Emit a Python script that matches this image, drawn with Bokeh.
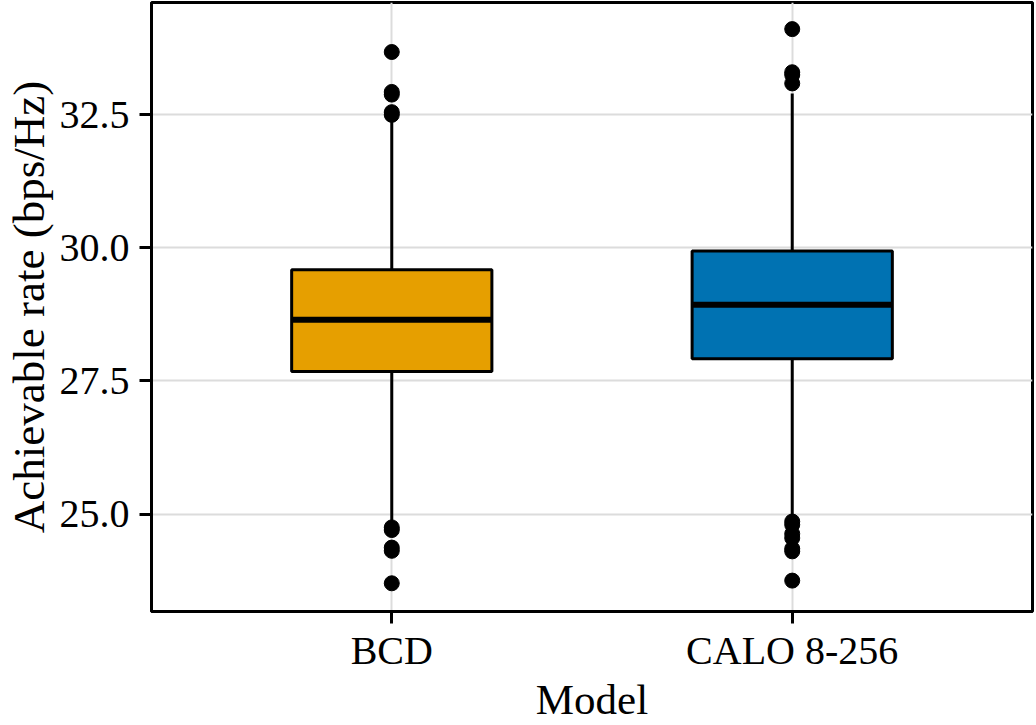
from bokeh.plotting import figure
from bokeh.models import Range1d, FixedTicker, ColumnDataSource
from bokeh.embed import file_html
from bokeh.resources import INLINE

# Box-plot summary per model (achievable rate, bps/Hz)
models = ["BCD", "CALO 8-256"]
colors = ["#E69F00", "#0072B2"]
q1 = [27.68, 27.92]
median = [28.65, 28.93]
q3 = [29.59, 29.94]
whisker_low = [24.84, 24.90]
whisker_high = [32.40, 32.90]

# Outlying observations
bcd_outliers = [33.68, 32.93, 32.88, 32.55, 32.50, 24.75, 24.70, 24.37, 24.31, 23.70]
calo_outliers = [34.11, 33.30, 33.25, 33.09, 24.86, 24.80, 24.63, 24.55, 24.35, 24.30, 23.75]

y_ticks = [25.0, 27.5, 30.0, 32.5]

FONT = "Liberation Serif"
BOX_W = 0.5

xpos = [i + 1 for i in range(len(models))]

p = figure(
    width=1036, height=725,
    frame_width=881, frame_height=609,
    x_range=Range1d(0.4, 2.6), y_range=Range1d(23.17, 34.61),
    output_backend="svg", toolbar_location=None,
    min_border_left=0, min_border_right=3, min_border_top=2, min_border_bottom=0,
)
p.background_fill_color = "white"
p.border_fill_color = "white"
p.outline_line_color = "black"
p.outline_line_width = 3

# grid
p.xgrid.ticker = FixedTicker(ticks=xpos)
p.ygrid.ticker = FixedTicker(ticks=y_ticks)
for g in (p.xgrid, p.ygrid):
    g.grid_line_color = "#dcdcdc"
    g.grid_line_width = 2

# axes
p.xaxis.ticker = FixedTicker(ticks=xpos)
p.xaxis.major_label_overrides = {x: m for x, m in zip(xpos, models)}
p.yaxis.ticker = FixedTicker(ticks=y_ticks)
p.yaxis.major_label_overrides = {t: f"{t:.1f}" for t in y_ticks}
p.xaxis.axis_label = "Model"
p.yaxis.axis_label = "Achievable rate (bps/Hz)"
for ax in (p.xaxis, p.yaxis):
    ax.axis_line_width = 3
    ax.axis_line_color = "black"
    ax.major_tick_line_width = 3
    ax.major_tick_line_color = "black"
    ax.major_tick_out = 12
    ax.major_tick_in = 0
    ax.minor_tick_line_color = None
    ax.major_label_text_font = FONT
    ax.major_label_text_font_size = "40px"
    ax.major_label_text_color = "black"
    ax.axis_label_text_font = FONT
    ax.axis_label_text_font_style = "normal"
    ax.axis_label_text_color = "black"
p.xaxis.axis_label_text_font_size = "43px"
p.yaxis.axis_label_text_font_size = "45px"
p.yaxis.major_label_standoff = 10
p.xaxis.major_label_standoff = 4
p.yaxis.axis_label_standoff = 3
p.xaxis.axis_label_standoff = 0

src = ColumnDataSource(dict(
    x=xpos, q1=q1, q3=q3, med=median, lo=whisker_low, hi=whisker_high, color=colors,
    left=[x - BOX_W / 2 for x in xpos], right=[x + BOX_W / 2 for x in xpos],
))

# whiskers
p.segment(x0="x", y0="q3", x1="x", y1="hi", source=src, line_color="black", line_width=3)
p.segment(x0="x", y0="lo", x1="x", y1="q1", source=src, line_color="black", line_width=3)

# boxes
p.vbar(x="x", width=BOX_W, top="q3", bottom="q1", source=src,
       fill_color="color", line_color="black", line_width=3)

# medians
p.segment(x0="left", y0="med", x1="right", y1="med", source=src,
          line_color="black", line_width=6)

# outliers
out_x = [xpos[0]] * len(bcd_outliers) + [xpos[1]] * len(calo_outliers)
out_y = bcd_outliers + calo_outliers
p.scatter(x=out_x, y=out_y, size=15, marker="circle", fill_color="black", line_color="black")

open("out.html", "w").write(file_html(p, INLINE))
